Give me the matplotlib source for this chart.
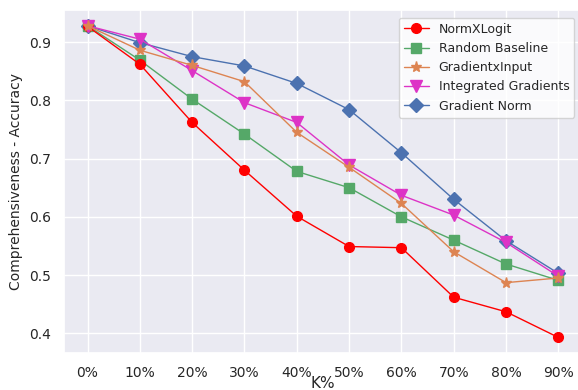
import matplotlib
matplotlib.use("Agg")
import matplotlib.pyplot as plt
import seaborn as sns

sns.set_theme(style="darkgrid")
plt.rcParams['font.family'] = ['DejaVu Sans']

k_labels = ['0%', '10%', '20%', '30%', '40%', '50%', '60%', '70%', '80%', '90%']

normxlogit = [0.927, 0.862, 0.762, 0.680, 0.601, 0.549, 0.547, 0.462, 0.437, 0.393]
random_baseline = [0.928, 0.869, 0.802, 0.742, 0.678, 0.650, 0.600, 0.560, 0.519, 0.491]
grad_x_input = [0.928, 0.886, 0.860, 0.832, 0.745, 0.685, 0.623, 0.540, 0.487, 0.495]
integrated_grads = [0.928, 0.905, 0.851, 0.796, 0.762, 0.689, 0.637, 0.603, 0.556, 0.498]
gradient_norm = [0.928, 0.899, 0.875, 0.859, 0.829, 0.784, 0.710, 0.630, 0.559, 0.503]

fig = plt.figure(figsize=(5.78, 3.9), dpi=100)
ax = fig.add_axes([0.1107, 0.0949, 0.896, 0.879])

x = range(len(k_labels))
ax.plot(x, normxlogit, color='red', marker='o', markersize=7, linewidth=1, label='NormXLogit', zorder=4)
ax.plot(x, random_baseline, color='#55A868', marker='s', markersize=7, linewidth=1, label='Random Baseline', zorder=3)
ax.plot(x, grad_x_input, color='#DD8452', marker='*', markersize=8, linewidth=1, label='GradientxInput', zorder=6)
ax.plot(x, integrated_grads, color='#DD33C6', marker='v', markersize=8, linewidth=1, label='Integrated Gradients', zorder=5)
ax.plot(x, gradient_norm, color='#4C72B0', marker='D', markersize=7, linewidth=1, label='Gradient Norm', zorder=2)

ax.set_xticks(list(x))
ax.set_xticklabels(k_labels)
ax.tick_params(labelsize=10)
ax.set_xlabel('K%', fontsize=11, labelpad=-3)
ax.set_ylabel('Comprehensiveness - Accuracy', fontsize=10)

ax.legend(loc='upper right', fontsize=9, facecolor='white', framealpha=0.8,
          borderaxespad=0.6)

fig.savefig('out.png', dpi=100)
